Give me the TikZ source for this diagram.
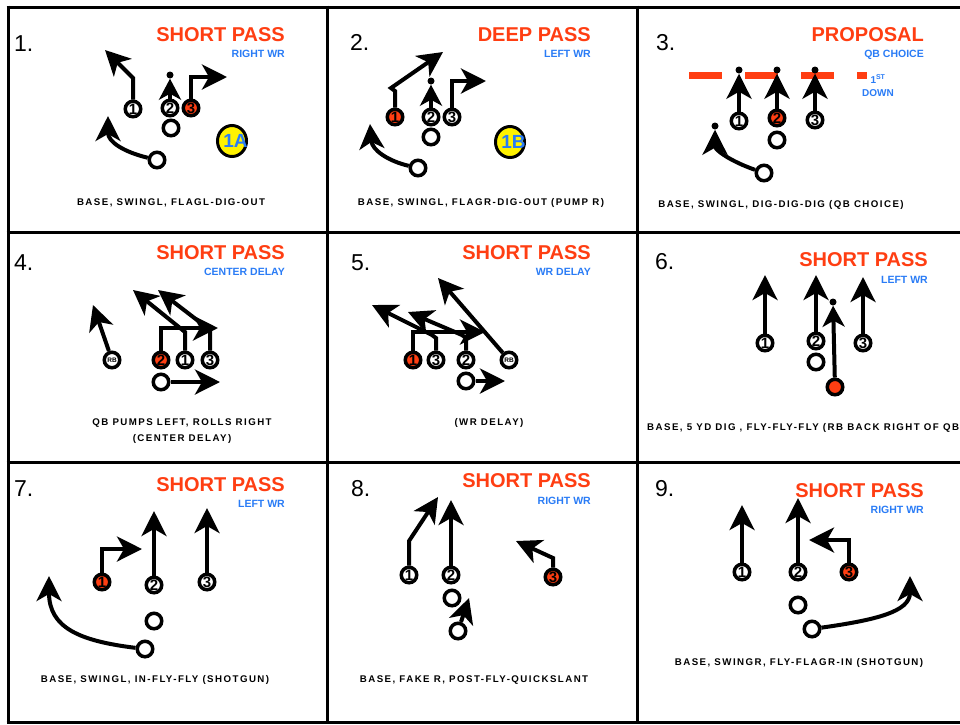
\documentclass[tikz,border=0pt]{standalone}
\usepackage{fontspec}
\setmainfont{Liberation Sans}
\newfontfamily\capfont[LetterSpace=15]{Liberation Sans}
\usetikzlibrary{arrows.meta, shapes.geometric}
\definecolor{playred}{RGB}{255,62,18}
\definecolor{noteblue}{RGB}{42,124,246}

\begin{document}
\begin{tikzpicture}[x=1pt, y=-1pt,
	cell/.style={line width=3pt},
	player/.style={circle, draw=black, line width=3.5pt, fill=white, minimum size=15.5pt, inner sep=0pt, font=\bfseries\fontsize{15}{15}\selectfont},
	hot/.style={player, fill=playred},
	back/.style={player, font=\bfseries\fontsize{6.5}{6.5}\selectfont},
	route/.style={line width=4pt, -{Stealth[length=25pt, width=25pt, inset=7pt]}},
	stoproute/.style={line width=4pt, -{Stealth[length=21pt, width=22pt, inset=6pt]}},
	stopdot/.style={circle, fill=black, minimum size=7pt, inner sep=0pt},
	option/.style={ellipse, draw=black, line width=3pt, fill=yellow, minimum width=29pt, minimum height=31pt, inner sep=0pt, text=noteblue, font=\bfseries\fontsize{19}{19}\selectfont},
	playno/.style={anchor=base west, inner sep=0pt, font=\fontsize{23}{23}\selectfont},
	playtype/.style={anchor=base east, inner sep=0pt, text=playred, font=\bfseries\fontsize{20}{20}\selectfont},
	playnote/.style={anchor=base east, inner sep=0pt, text=noteblue, font=\bfseries\fontsize{10.5}{10.5}\selectfont},
	caption/.style={anchor=base, inner sep=0pt, align=center, font=\capfont\bfseries\fontsize{9.7}{16}\selectfont}
	]
	\path[use as bounding box, clip] (0,0) rectangle (960,724);
	\fill[white] (0,0) rectangle (960,724);

	% the card grid
	\foreach \y in {7,232,462,722}
		\draw[cell] (6.5,\y) -- (960,\y);
	\foreach \x in {8,327,637}
		\draw[cell] (\x,5.5) -- (\x,723.5);

	% 1. short pass, right wr
	\node[playno] (no1) at (14,51) {1.};
	\node[playtype] (type1) at (285,41) {SHORT PASS};
	\node[playnote] (note1) at (285,57) {RIGHT WR};
	\node[player] (p1a) at (133,109) {1};
	\node[player] (p2a) at (170,108) {2};
	\node[hot] (p3a) at (191,108) {3};
	\node[player] (qba) at (171,128) {};
	\node[player] (rba) at (157,160) {};
	\node[option] (opta) at (232,141) {\makebox[0pt]{\hspace{7pt}1A}};
	\node[stopdot] (da) at (170,75) {};
	\coordinate (t1a) at (105,50);
	\coordinate (t3a) at (227,77);
	\coordinate (tra) at (108,116);
	\draw[route] (p1a) -- ++(0,-31) -- (t1a);
	\draw[stoproute] (p2a) -- (da);
	\draw[route] (p3a) |- (t3a);
	\draw[route] (rba) .. controls (124,152) and (108,142) .. (tra);
	\node[caption] (cap1) at (171,205) {BASE, SWINGL, FLAGL-DIG-OUT};

	% 2. deep pass, left wr
	\node[playno] (no2) at (350,50) {2.};
	\node[playtype] (type2) at (591,41) {DEEP PASS};
	\node[playnote] (note2) at (591,57) {LEFT WR};
	\node[hot] (p1b) at (395,117) {1};
	\node[player] (p2b) at (431,117) {2};
	\node[player] (p3b) at (452,117) {3};
	\node[player] (qbb) at (431,137) {};
	\node[player] (rbb) at (418,168) {};
	\node[option] (optb) at (510,142) {\makebox[0pt]{\hspace{7pt}1B}};
	\node[stopdot] (db) at (431,81) {};
	\coordinate (t1b) at (443,52);
	\coordinate (t3b) at (486,81);
	\coordinate (trb) at (370,124);
	\draw[route] (p1b) -- ++(0,-26) -- ++(-4,-3) -- (t1b);
	\draw[stoproute] (p2b) -- (db);
	\draw[route] (p3b) |- (t3b);
	\draw[route] (rbb) .. controls (388,161) and (372,150) .. (trb);
	\node[caption] (cap2) at (481,205) {BASE, SWINGL, FLAGR-DIG-OUT (PUMP R)};

	% 3. proposal, qb choice
	\coordinate (downl) at (689,75);
	\coordinate (downr) at (867,75);
	\draw[line width=7pt, playred, dash pattern=on 33pt off 23pt] (downl) -- (downr);
	\node[playno] (no3) at (656,50) {3.};
	\node[playtype] (type3) at (924,41) {PROPOSAL};
	\node[playnote] (note3) at (924,57) {QB CHOICE};
	\node[playnote, anchor=base, align=center, font=\bfseries\fontsize{10}{13}\selectfont] (first3) at (878,96) {1\textsuperscript{ST}\\DOWN};
	\node[player] (p1c) at (739,121) {1};
	\node[hot] (p2c) at (777,118) {2};
	\node[player] (p3c) at (815,120) {3};
	\node[player] (qbc) at (777,140) {};
	\node[player] (rbc) at (764,173) {};
	\node[stopdot] (d1c) at (739,70) {};
	\node[stopdot] (d2c) at (777,70) {};
	\node[stopdot] (d3c) at (815,70) {};
	\node[stopdot] (drc) at (715,126) {};
	\draw[route] (p1c) -- (d1c);
	\draw[route] (p2c) -- (d2c);
	\draw[route] (p3c) -- (d3c);
	\draw[route] (rbc) .. controls (730,161) and (715,150) .. (drc);
	\node[caption] (cap3) at (781,207) {BASE, SWINGL, DIG-DIG-DIG (QB CHOICE)};

	% 4. short pass, center delay
	\node[playno] (no4) at (14,270) {4.};
	\node[playtype] (type4) at (285,259) {SHORT PASS};
	\node[playnote] (note4) at (285,275) {CENTER DELAY};
	\node[back] (rbd) at (112,360) {RB};
	\node[hot] (p2d) at (161,360) {2};
	\node[player] (p1d) at (185,360) {1};
	\node[player] (p3d) at (210,360) {3};
	\node[player] (qbd) at (161,382) {};
	\coordinate (t2d) at (218,328);
	\coordinate (t1d) at (133,290);
	\coordinate (t3d) at (158,290);
	\coordinate (trd) at (93,305);
	\coordinate (tqd) at (220,382);
	\draw[route] (p2d) |- (t2d);
	\draw[route] (p1d) -- ++(0,-28) -- (t1d);
	\draw[route] (p3d) -- ++(0,-30) -- (t3d);
	\draw[route] (rbd) -- (trd);
	\draw[route] (qbd) -- (tqd);
	\node[caption] (cap4) at (182,441) {QB PUMPS LEFT, ROLLS RIGHT\\(CENTER DELAY)};

	% 5. short pass, wr delay
	\node[playno] (no5) at (351,270) {5.};
	\node[playtype] (type5) at (591,259) {SHORT PASS};
	\node[playnote] (note5) at (591,275) {WR DELAY};
	\node[hot] (p1e) at (413,360) {1};
	\node[player] (p3e) at (436,360) {3};
	\node[player] (p2e) at (466,360) {2};
	\node[back] (rbe) at (509,360) {RB};
	\node[player] (qbe) at (466,381) {};
	\coordinate (t1e) at (485,332);
	\coordinate (t3e) at (372,305);
	\coordinate (t2e) at (408,312);
	\coordinate (tre) at (438,278);
	\coordinate (tqe) at (505,381);
	\draw[route] (p1e) |- (t1e);
	\draw[route] (p3e) -- ++(0,-22) -- ++(-4,-3) -- (t3e);
	\draw[route] (p2e) -- ++(0,-22) -- ++(-4,-3) -- (t2e);
	\draw[route] (rbe) -- (tre);
	\draw[route] (qbe) -- (tqe);
	\node[caption] (cap5) at (489,425) {(WR DELAY)};

	% 6. short pass, left wr
	\node[playno] (no6) at (655,269) {6.};
	\node[playtype] (type6) at (928,266) {SHORT PASS};
	\node[playnote] (note6) at (928,283) {LEFT WR};
	\node[player] (p1f) at (765,343) {1};
	\node[player] (p2f) at (816,341) {2};
	\node[player] (p3f) at (863,343) {3};
	\node[player] (qbf) at (816,362) {};
	\node[hot] (rbf) at (835,387) {};
	\node[stopdot] (drf) at (833,302) {};
	\coordinate (t1f) at (765,275);
	\coordinate (t2f) at (816,275);
	\coordinate (t3f) at (863,277);
	\draw[route] (p1f) -- (t1f);
	\draw[route] (p2f) -- (t2f);
	\draw[route] (p3f) -- (t3f);
	\draw[stoproute] (rbf) -- (drf);
	\node[caption, anchor=base west] (cap6) at (647,430) {BASE, 5 YD DIG , FLY-FLY-FLY (RB BACK RIGHT OF QB)};

	% 7. short pass, left wr
	\node[playno] (no7) at (14,496) {7.};
	\node[playtype] (type7) at (285,491) {SHORT PASS};
	\node[playnote] (note7) at (285,507) {LEFT WR};
	\node[hot] (p1g) at (102,582) {1};
	\node[player] (p2g) at (154,585) {2};
	\node[player] (p3g) at (207,582) {3};
	\node[player] (qbg) at (154,621) {};
	\node[player] (rbg) at (145,649) {};
	\coordinate (t1g) at (142,549);
	\coordinate (t2g) at (154,511);
	\coordinate (t3g) at (207,508);
	\coordinate (trg) at (49,576);
	\draw[route] (p1g) |- (t1g);
	\draw[route] (p2g) -- (t2g);
	\draw[route] (p3g) -- (t3g);
	\draw[route] (rbg) .. controls (80,641) and (49,628) .. (trg);
	\node[caption] (cap7) at (155,682) {BASE, SWINGL, IN-FLY-FLY (SHOTGUN)};

	% 8. short pass, right wr
	\node[playno] (no8) at (351,496) {8.};
	\node[playtype] (type8) at (591,487) {SHORT PASS};
	\node[playnote] (note8) at (591,504) {RIGHT WR};
	\node[player] (p1h) at (409,575) {1};
	\node[player] (p2h) at (451,575) {2};
	\node[hot] (p3h) at (553,577) {3};
	\node[player] (qbh) at (452,598) {};
	\node[player] (rbh) at (458,631) {};
	\coordinate (t1h) at (438,497);
	\coordinate (t2h) at (451,500);
	\coordinate (t3h) at (516,541);
	\coordinate (tfh) at (469,598);
	\draw[route] (p1h) -- ++(0,-34) -- (t1h);
	\draw[route] (p2h) -- (t2h);
	\draw[route] (p3h) -- ++(0,-19) -- (t3h);
	\draw[route] (rbh) -- (tfh);
	\node[caption] (cap8) at (474,682) {BASE, FAKE R, POST-FLY-QUICKSLANT};

	% 9. short pass, right wr
	\node[playno] (no9) at (655,496) {9.};
	\node[playtype] (type9) at (924,497) {SHORT PASS};
	\node[playnote] (note9) at (924,513) {RIGHT WR};
	\node[player] (p1i) at (742,572) {1};
	\node[player] (p2i) at (798,572) {2};
	\node[hot] (p3i) at (849,572) {3};
	\node[player] (qbi) at (798,605) {};
	\node[player] (rbi) at (812,629) {};
	\coordinate (t1i) at (742,505);
	\coordinate (t2i) at (798,498);
	\coordinate (t3i) at (809,540);
	\coordinate (tri) at (910,576);
	\draw[route] (p1i) -- (t1i);
	\draw[route] (p2i) -- (t2i);
	\draw[route] (p3i) |- (t3i);
	\draw[route] (rbi) .. controls (875,620) and (910,612) .. (tri);
	\node[caption] (cap9) at (799,665) {BASE, SWINGR, FLY-FLAGR-IN (SHOTGUN)};
\end{tikzpicture}
\end{document}
